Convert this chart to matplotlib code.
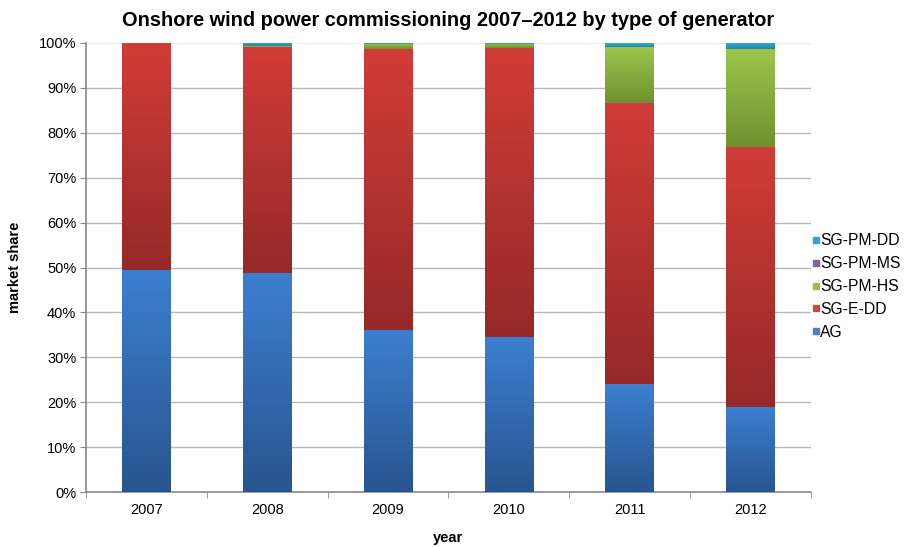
import numpy as np
import matplotlib
matplotlib.use('Agg')
import matplotlib.pyplot as plt
from matplotlib.colors import LinearSegmentedColormap
from matplotlib.lines import Line2D

plt.rcParams['font.family'] = ['Liberation Sans', 'DejaVu Sans']

# data (market share in %)
years = ['2007', '2008', '2009', '2010', '2011', '2012']
ag = [49.5, 48.8, 36.1, 34.5, 24.0, 19.0]
sg_e_dd = [50.5, 50.4, 62.5, 64.4, 62.6, 57.8]
sg_pm_hs = [0.0, 0.1, 1.2, 0.9, 12.6, 21.8]
sg_pm_ms = [0.0, 0.0, 0.0, 0.0, 0.0, 0.0]
sg_pm_dd = [0.0, 0.7, 0.2, 0.2, 0.8, 1.4]

series = [
    ('AG', ag, '#4f81bd', '#3c7fd0', '#28558f'),
    ('SG-E-DD', sg_e_dd, '#c0504d', '#d23c38', '#952927'),
    ('SG-PM-HS', sg_pm_hs, '#9bbb59', '#9dc64b', '#6f9130'),
    ('SG-PM-MS', sg_pm_ms, '#8064a2', '#8a6bb0', '#5d4680'),
    ('SG-PM-DD', sg_pm_dd, '#2fa7c9', '#35b0d4', '#2286a6'),
]

fig = plt.figure(figsize=(9.1, 5.47), dpi=100)
ax = fig.add_axes([0.0945, 0.1005, 0.7965, 0.8209])

x = np.arange(len(years))
bottom = np.zeros(len(years))
grad = np.linspace(0, 1, 256).reshape(-1, 1)
for name, vals, base, top_c, bot_c in series:
    vals = np.array(vals)
    cmap = LinearSegmentedColormap.from_list(name, [bot_c, top_c])
    bars = ax.bar(x, vals, 0.4, bottom=bottom, color=base, edgecolor='none', zorder=3)
    for b in bars:
        if b.get_height() <= 0:
            continue
        x0, y0, w, h = b.get_x(), b.get_y(), b.get_width(), b.get_height()
        im = ax.imshow(grad, cmap=cmap, aspect='auto', origin='lower',
                       extent=[x0, x0 + w, y0, y0 + h], zorder=3.5,
                       interpolation='bilinear')
        im.set_clip_path(b)
    bottom += vals

ax.set_xlim(-0.5, len(years) - 0.5)
ax.set_ylim(0, 100)
ax.set_yticks(np.arange(0, 101, 10))
ax.set_yticklabels([f'{v}%' for v in range(0, 101, 10)], fontsize=10.5)
ax.set_xticks(x)
ax.set_xticklabels(years, fontsize=10.5)
ax.set_xticks(np.arange(-0.5, len(years)), minor=True)
ax.tick_params(axis='x', which='major', length=0, pad=8)
ax.tick_params(axis='x', which='minor', length=4, color='#888888')
ax.tick_params(axis='y', length=4, color='#888888', pad=3)
ax.yaxis.grid(True, color='#b8b8b8', linewidth=1, zorder=0)
ax.set_axisbelow(True)
ax.get_ygridlines()[-1].set_color('#ececec')
for s in ['top', 'right']:
    ax.spines[s].set_visible(False)
for s in ['left', 'bottom']:
    ax.spines[s].set_color('#888888')
    ax.spines[s].set_linewidth(1.2)

ax.set_title('Onshore wind power commissioning 2007\u20132012 by type of generator',
             fontsize=14.4, fontweight='bold', pad=12)
ax.set_xlabel('year', fontsize=10.5, fontweight='bold', labelpad=10)
ax.set_ylabel('market share', fontsize=10.5, fontweight='bold', labelpad=12)

handles = [Line2D([], [], marker='s', linestyle='none', markersize=4.5,
                  color=c) for _, _, c, _, _ in series[::-1]]
labels = [n for n, _, _, _, _ in series[::-1]]
fig.legend(handles, labels, loc='center left', bbox_to_anchor=(0.886, 0.476),
           frameon=False, fontsize=11.3, handlelength=0.4, handletextpad=0.1,
           labelspacing=0.5, borderaxespad=0)

fig.savefig('out.png', dpi=100)
